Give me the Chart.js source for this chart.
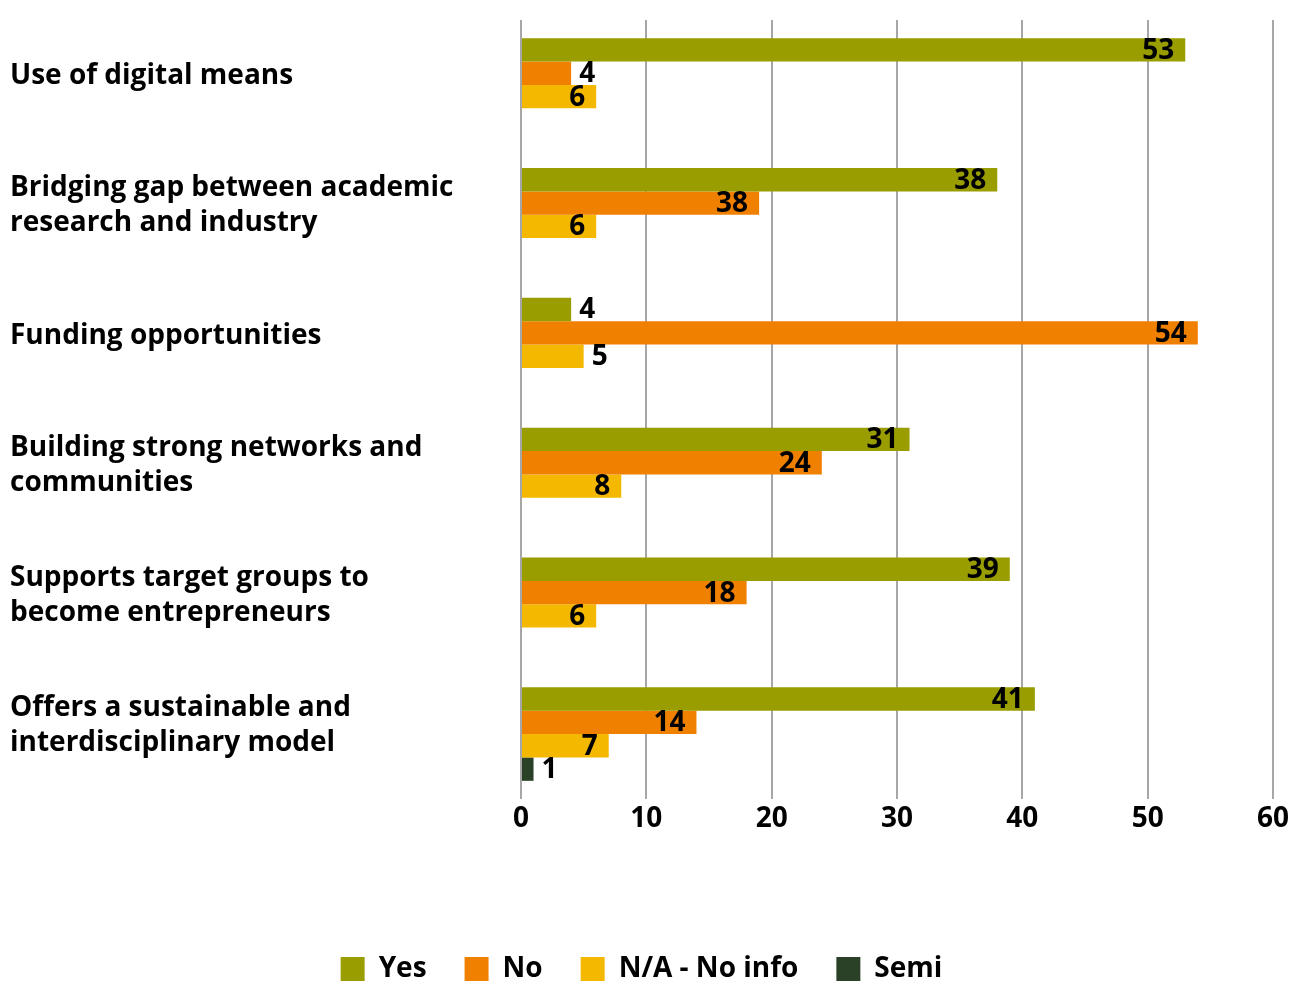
<!DOCTYPE html>
<html>
<head>
<meta charset="utf-8">
<script src="https://cdn.jsdelivr.net/npm/chart.js@4.4.1/dist/chart.umd.min.js"></script>
<style>
  html, body { margin: 0; padding: 0; background: #fff; }
  #wrap { width: 1302px; height: 982px; position: relative; }
</style>
</head>
<body>
<div id="wrap"><canvas id="grafico"></canvas></div>
<script>
"use strict";

/* ── DADOS ─────────────────────────────── */
const categorias = [
  ["Use of digital means"],
  ["Bridging gap between academic", "research and industry"],
  ["Funding opportunities"],
  ["Building strong networks and", "communities"],
  ["Supports target groups to", "become entrepreneurs"],
  ["Offers a sustainable and", "interdisciplinary model"]
];
const serieYes  = [53, 38, 4, 31, 39, 41];
const serieNo   = [4, 19, 54, 24, 18, 14];
const serieNA   = [6, 6, 5, 8, 6, 7];
const serieSemi = [null, null, null, null, null, 1];
// texto dos rótulos como aparece no original (o "No" do 2º grupo diz 38)
const textoNo   = ["4", "38", "54", "24", "18", "14"];
const nomesSeries = ["Yes", "No", "N/A - No info", "Semi"];
const ticksX = [0, 10, 20, 30, 40, 50, 60];

/* ── ESTILO ────────────────────────────── */
const FONTE = "'Open Sans', 'Noto Sans', sans-serif";
const cores = ["#999d00", "#f08000", "#f5b800", "#2a4128"];

/* ── RÓTULOS DAS BARRAS ────────────────── */
const rotulos = {
  id: "rotulos",
  afterDatasetsDraw(chart) {
    const ctx = chart.ctx;
    ctx.save();
    ctx.font = "700 28px " + FONTE;
    ctx.fillStyle = "#000";
    ctx.textBaseline = "middle";
    chart.data.datasets.forEach((ds, i) => {
      const meta = chart.getDatasetMeta(i);
      meta.data.forEach((bar, j) => {
        const v = ds.data[j];
        if (v == null) return;
        const txt = ds.textos ? ds.textos[j] : String(v);
        if (v < 6) {
          ctx.textAlign = "left";
          ctx.fillText(txt, bar.x + 8, bar.y + 1);
        } else {
          ctx.textAlign = "right";
          ctx.fillText(txt, bar.x - 11, bar.y + 1);
        }
      });
    });
    ctx.restore();
  }
};

/* ── GRÁFICO ───────────────────────────── */
const series = [serieYes, serieNo, serieNA, serieSemi];

new Chart(document.getElementById("grafico"), {
  type: "bar",
  data: {
    labels: categorias,
    datasets: series.map((d, i) => ({
      label: nomesSeries[i],
      data: d,
      textos: i === 1 ? textoNo : null,
      backgroundColor: cores[i],
      borderWidth: 0,
      barPercentage: 1,
      categoryPercentage: 0.72
    }))
  },
  options: {
    indexAxis: "y",
    responsive: true,
    maintainAspectRatio: false,
    animation: false,
    layout: { padding: { left: 10, right: 29, top: 20, bottom: -11 } },
    plugins: {
      legend: {
        position: "bottom",
        labels: {
          color: "#000",
          font: { family: FONTE, size: 28, weight: "700" },
          boxWidth: 24,
          boxHeight: 24,
          padding: 38
        }
      },
      tooltip: { enabled: false }
    },
    scales: {
      x: {
        min: 0,
        max: 60,
        afterBuildTicks: axis => { axis.ticks = ticksX.map(v => ({ value: v })); },
        afterFit: axis => { axis.height = 118; },
        border: { display: false },
        grid: { color: "#a6a6a6", lineWidth: 2, drawTicks: false },
        ticks: {
          color: "#000",
          padding: 3,
          font: { family: FONTE, size: 28, weight: "700" }
        }
      },
      y: {
        afterFit: axis => {
          axis.width = 511;
          axis.paddingTop = 0;
          axis.paddingBottom = 0;
        },
        border: { display: false },
        grid: { display: false, drawTicks: false },
        ticks: {
          color: "#000",
          crossAlign: "far",
          labelOffset: -9,
          font: { family: FONTE, size: 28, weight: "700", lineHeight: 1.25 }
        }
      }
    }
  },
  plugins: [rotulos]
});
</script>
</body>
</html>
